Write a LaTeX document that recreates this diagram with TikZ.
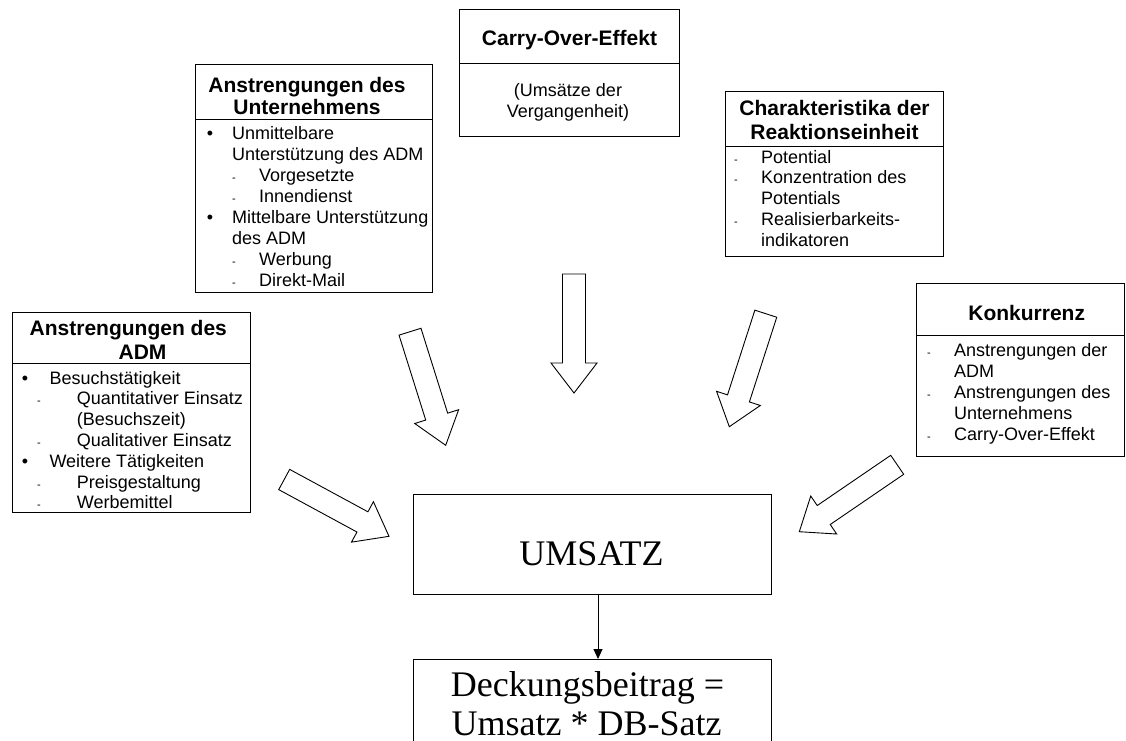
\documentclass[tikz,border=0pt]{standalone}
\usepackage{fontspec}
\setmainfont{Liberation Serif}
\newfontfamily\arialf{Liberation Sans}
\usetikzlibrary{calc,arrows.meta}
\tikzset{
  box/.style={draw, line width=0.9pt, rectangle, inner sep=0pt, anchor=north west},
  hd/.style={font=\arialf\bfseries\fontsize{21}{24}\selectfont, inner sep=0pt, anchor=base},
  bd/.style={font=\arialf\fontsize{18}{21}\selectfont, inner sep=0pt, anchor=base west},
  bd c/.style={font=\arialf\fontsize{18}{21}\selectfont, inner sep=0pt, anchor=base},
  bul/.style={font=\arialf\fontsize{18}{21}\selectfont, inner sep=0pt, anchor=base},
  dsh/.style={font=\arialf\fontsize{11}{12}\selectfont, inner sep=0pt, anchor=base},
  big/.style={font=\fontsize{36}{40}\selectfont, inner sep=0pt, anchor=base},
  barrow/.style={draw, line width=0.9pt, fill=white, line join=miter},
  divider/.style={line width=0.9pt},
  conn/.style={line width=0.9pt, -{Triangle[length=10pt,width=9pt]}}
}
\newcommand\drawbarrow[2]{%
  \coordinate (#1h) at ($(#1)!89pt!(#2)$);
  \draw[barrow] ($(#1)!11.5pt!90:(#2)$) -- ($(#1h)!11.5pt!90:(#2)$)
     -- ($(#1h)!23pt!90:(#2)$) -- (#2) -- ($(#1h)!23pt!-90:(#2)$)
     -- ($(#1h)!11.5pt!-90:(#2)$) -- ($(#1)!11.5pt!-90:(#2)$) -- cycle;}
\begin{document}
\begin{tikzpicture}[x=1pt, y=-1pt]
\useasboundingbox (0,0) rectangle (1126,740);

% ---------- Box: Anstrengungen des Unternehmens ----------
\node[box, minimum width=237pt, minimum height=228pt] (unt) at (195,64) {};
\draw[divider] ($(unt.north west)+(0,55)$) -- ($(unt.north east)+(0,55)$);
\node[hd] (unt-h1) at (307,92.5) {Anstrengungen des};
\node[hd] (unt-h2) at (307,114.5) {Unternehmens};
\foreach \x/\y/\t [count=\i] in {
  232/139/Unmittelbare, 232/160/Unterstützung des ADM,
  259/181/Vorgesetzte, 259/202/Innendienst,
  232/223/Mittelbare Unterstützung, 232/244/des ADM,
  259/265/Werbung, 259/286/Direkt-Mail}
  \node[bd] (unt-l\i) at (\x,\y) {\t};
\node[bul] (unt-b1) at (210,139) {•};
\node[bul] (unt-b2) at (210,223) {•};
\foreach \y [count=\i] in {181,202,265,286}
  \node[dsh] (unt-d\i) at (234,\y) {-};

% ---------- Box: Carry-Over-Effekt ----------
\node[box, minimum width=220pt, minimum height=127pt] (cov) at (459,9) {};
\draw[divider] ($(cov.north west)+(0,54)$) -- ($(cov.north east)+(0,54)$);
\node[hd] (cov-h) at (569.5,45.5) {Carry-Over-Effekt};
\node[bd c] (cov-l1) at (568,96) {(Umsätze der};
\node[bd c] (cov-l2) at (568,117) {Vergangenheit)};

% ---------- Box: Charakteristika der Reaktionseinheit ----------
\node[box, minimum width=218pt, minimum height=165pt] (cha) at (725,91) {};
\draw[divider] ($(cha.north west)+(0,55)$) -- ($(cha.north east)+(0,55)$);
\node[hd] (cha-h1) at (834.5,115.5) {Charakteristika der};
\node[hd] (cha-h2) at (834.5,139.5) {Reaktionseinheit};
\foreach \y/\t [count=\i] in {
  163/Potential, 183.8/Konzentration des, 204.6/Potentials,
  225.4/Realisierbarkeits-, 246.2/indikatoren}
  \node[bd] (cha-l\i) at (761,\y) {\t};
\foreach \y [count=\i] in {163,183.8,225.4}
  \node[dsh] (cha-d\i) at (736,\y) {-};

% ---------- Box: Anstrengungen des ADM ----------
\node[box, minimum width=238pt, minimum height=200pt] (adm) at (12,312) {};
\draw[divider] ($(adm.north west)+(0,51)$) -- ($(adm.north east)+(0,51)$);
\node[hd] (adm-h1) at (128.3,335.5) {Anstrengungen des};
\node[hd] (adm-h2) at (142.5,359.5) {ADM};
\foreach \x/\y/\t [count=\i] in {
  49.3/384/Besuchstätigkeit, 76.7/404.8/Quantitativer Einsatz,
  76.7/425.6/(Besuchszeit), 76.7/446.4/Qualitativer Einsatz,
  49.3/467.2/Weitere Tätigkeiten, 76.7/488/Preisgestaltung,
  76.7/508.8/Werbemittel}
  \node[bd] (adm-l\i) at (\x,\y) {\t};
\node[bul] (adm-b1) at (25,384) {•};
\node[bul] (adm-b2) at (25,467.2) {•};
\foreach \y [count=\i] in {404.8,446.4,488,508.8}
  \node[dsh] (adm-d\i) at (39,\y) {-};

% ---------- Box: Konkurrenz ----------
\node[box, minimum width=208pt, minimum height=173pt] (kon) at (916,283) {};
\draw[divider] ($(kon.north west)+(0,52)$) -- ($(kon.north east)+(0,52)$);
\node[hd] (kon-h) at (1026.7,320.5) {Konkurrenz};
\foreach \y/\t [count=\i] in {
  356/Anstrengungen der, 377/ADM, 398/Anstrengungen des,
  419/Unternehmens, 440/Carry-Over-Effekt}
  \node[bd] (kon-l\i) at (954,\y) {\t};
\foreach \y [count=\i] in {356,398,440}
  \node[dsh] (kon-d\i) at (929,\y) {-};

% ---------- UMSATZ and Deckungsbeitrag ----------
\node[box, minimum width=358pt, minimum height=100pt] (ums) at (413,494) {};
\node[big] (ums-t) at (591.5,565) {UMSATZ};
\node[box, minimum width=358pt, minimum height=90pt] (deck) at (413,659) {};
\node[big] (deck-t1) at (587.5,696) {Deckungsbeitrag =};
\node[big] (deck-t2) at (586.7,735) {Umsatz * DB-Satz};
\coordinate (ums-out) at (598,594);
\coordinate (deck-in) at (598,659);
\draw[conn] (ums-out) -- (deck-in);

% ---------- Block arrows ----------
\coordinate (a1) at (410,331.7);   \coordinate (a1e) at (445.7,445.3);
\coordinate (a2) at (574,274);     \coordinate (a2e) at (574,393);
\coordinate (a3) at (765.8,313.7); \coordinate (a3e) at (729.3,426.7);
\coordinate (a4) at (284.2,479.5); \coordinate (a4e) at (389,536.3);
\coordinate (a5) at (897.2,464.8); \coordinate (a5e) at (799.3,531.7);
\drawbarrow{a1}{a1e}
\drawbarrow{a2}{a2e}
\drawbarrow{a3}{a3e}
\drawbarrow{a4}{a4e}
\drawbarrow{a5}{a5e}
\end{tikzpicture}
\end{document}
